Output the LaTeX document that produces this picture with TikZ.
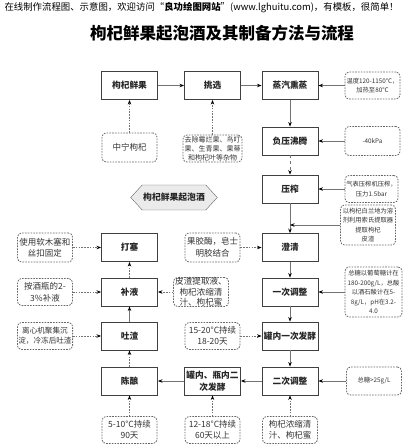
\documentclass[tikz,border=0pt]{standalone}
\usepackage{fontspec}
\setmainfont{Noto Sans CJK SC}
\usetikzlibrary{shapes, arrows.meta, positioning}

\begin{document}
\begin{tikzpicture}[x=1pt, y=-1pt,
  box/.style={draw=black!75, line width=0.9pt, fill=white, minimum width=56pt, minimum height=28pt, inner sep=1pt, align=center, text=black!85, font=\bfseries\fontsize{8.7}{11.5}\selectfont},
  note/.style={draw=black!60, dash pattern=on 1.6pt off 1.2pt, line width=0.8pt, rounded corners=4pt, minimum width=55pt, minimum height=27pt, inner sep=1pt, align=center, text=black!80, font=\fontsize{8.5}{11.5}\selectfont},
  notesm/.style={font=\fontsize{6.3}{9.5}\selectfont},
  hexa/.style={draw=black!60, fill=black!8, signal, signal to=east and west, signal pointer angle=95, minimum width=78pt, minimum height=25pt, inner sep=1pt, text=black!85, font=\bfseries\fontsize{8.8}{10}\selectfont},
  flow/.style={draw=black!55, line width=0.8pt, -{Stealth[length=4.5pt, width=3.5pt, black]}},
  hint/.style={flow, dash pattern=on 1.6pt off 1.2pt}]
\useasboundingbox (0,0) rectangle (405,445);

\node[anchor=west, font=\fontsize{9.4}{10}\selectfont] (head) at (1,8) {在线制作流程图、示意图，欢迎访问“\textbf{良功绘图网站}”(www.lghuitu.com)，有模板，很简单！};
\node[font=\bfseries\fontsize{16.5}{18}\selectfont] (title) at (222,33) {枸杞鲜果起泡酒及其制备方法与流程};

% main steps
\node[box] (xg) at (129.5,85.5) {枸杞鲜果};
\node[box] (tx) at (212.5,85.5) {挑选};
\node[box] (zq) at (290,85.5) {蒸汽熏蒸};
\node[box] (fy) at (290,141) {负压沸腾};
\node[box] (yz) at (290,189) {压榨};
\node[box] (cq) at (290,247.5) {澄清};
\node[box] (yc) at (290,292) {一次调整};
\node[box] (gn1) at (290,336) {罐内一次发酵};
\node[box] (ec) at (290,381) {二次调整};
\node[box] (gn2) at (212.5,381) {罐内、瓶内二\\次发酵};
\node[box] (cn) at (129.5,381) {陈酿};
\node[box] (tz) at (129.5,336) {吐渣};
\node[box] (by) at (129.5,292) {补液};
\node[box] (ds) at (129.5,247.5) {打塞};

% notes
\node[note, minimum height=29pt] (zn) at (129.5,147.5) {中宁枸杞};
\node[note, font=\fontsize{7}{9}\selectfont, minimum width=59pt] (qc) at (212.5,148.5) {去除霉烂果、鸟叮\\果、生青果、果蒂\\和枸杞叶等杂物};
\node[hexa] (cp) at (174,197.5) {枸杞鲜果起泡酒};
\node[note, notesm] (wd) at (372.5,85.5) {温度120-1150°C，\\加热至80°C};
\node[note, notesm, minimum height=29pt] (kp) at (372.5,141) {-40kPa};
\node[note, notesm, minimum width=53pt] (qb) at (371.5,189) {气表压榨机压榨，\\压力1.5bar};
\node[note, notesm, minimum height=40pt] (bl) at (368,225) {以枸杞白兰地为溶\\剂利用索氏提取器\\提取枸杞\\皮渣};
\coordinate (bj) at (290,225);
\node[note, minimum height=29pt] (gj) at (212.5,247.5) {果胶酶，皂士\\明胶结合};
\node[note, minimum height=29pt] (sy) at (45,247.5) {使用软木塞和\\丝扣固定};
\node[note] (aj) at (45,292) {按酒瓶的2-\\3\%补液};
\node[note, inner sep=0pt, font=\fontsize{8.6}{10.5}\selectfont] (pz) at (201,292) {皮渣提取液、\\枸杞浓缩清\\汁、枸杞蜜};
\node[note, notesm, minimum width=57pt, minimum height=50pt] (zt) at (373.5,292) {总糖以葡萄糖计在\\180-200g/L，总酸\\以酒石酸计在5-\\8g/L，pH在3.2-\\4.0};
\node[note, font=\fontsize{7.6}{10}\selectfont] (lx) at (45,336) {离心机聚集沉\\淀，冷冻后吐渣};
\node[note] (fj) at (212.5,336) {15-20°C持续\\18-20天};
\node[note, notesm, minimum height=28pt] (zt2) at (374,381) {总糖>25g/L};
\node[note] (ej) at (212.5,430) {12-18°C持续\\60天以上};
\node[note] (cj) at (129.5,430) {5-10°C持续\\90天};
\node[note] (nz) at (290,430) {枸杞浓缩清\\汁、枸杞蜜};

% flow
\draw[flow] (xg) -- (tx);
\draw[flow] (tx) -- (zq);
\draw[flow] (zq) -- (fy);
\draw[flow, dashed] (fy) -- (yz);
\draw[flow] (yz) -- (cq);
\draw[flow] (cq) -- (yc);
\draw[flow] (yc) -- (gn1);
\draw[flow] (gn1) -- (ec);
\draw[flow] (ec) -- (gn2);
\draw[flow] (gn2) -- (cn);
\draw[hint] (cn) -- (tz);
\draw[flow] (tz) -- (by);
\draw[hint] (by) -- (ds);

% notes to steps
\draw[hint] (zn) -- (xg);
\draw[hint] (qc) -- (tx);
\draw[flow] (wd) -- (zq);
\draw[flow] (kp) -- (fy);
\draw[flow] (qb) -- (yz);
\draw[flow] (bl) -- (bj);
\draw[hint] (gj) -- (cq);
\draw[hint] (sy) -- (ds);
\draw[hint] (aj) -- (by);
\draw[hint] (pz) -- (by);
\draw[flow] (zt) -- (yc);
\draw[hint] (lx) -- (tz);
\draw[hint] (fj) -- (gn1);
\draw[flow] (zt2) -- (ec);
\draw[hint] (nz) -- (ec);
\draw[hint] (ej) -- (gn2);
\draw[hint] (cj) -- (cn);
\end{tikzpicture}
\end{document}
